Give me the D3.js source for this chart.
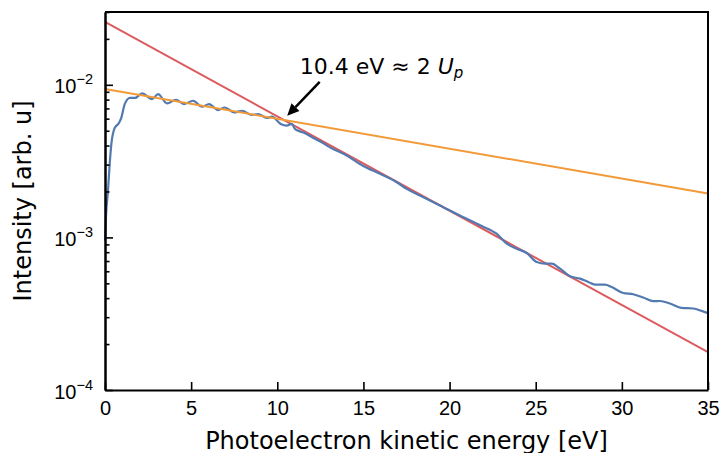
<!DOCTYPE html>
<html>
<head>
<meta charset="utf-8">
<script src="https://cdn.jsdelivr.net/npm/d3@7"></script>
<style>
  body { margin: 0; background: #fff; }
  svg { display: block; font-family: "DejaVu Sans", sans-serif; }
</style>
</head>
<body>
<div class="chart"></div>
<script>
// measured spectrum (blue)
var energy = [0, 0.06, 0.17, 0.27, 0.37, 0.56, 0.8, 0.95, 1.15, 1.45,
  1.75, 2.15, 2.73, 3.08, 3.6, 4.12, 4.59, 5.11, 5.63, 6.04,
  6.56, 6.96, 7.49, 7.95, 8.53, 8.88, 9.4, 9.69, 10.2, 10.55,
  10.84, 11.03, 11.32, 11.61, 12.07, 12.58, 13.06, 14.03, 14.97, 15.96,
  16.93, 17.51, 18.28, 19.44, 20.6, 21.77, 22.73, 23.32, 23.9, 24.48,
  25.06, 25.54, 25.93, 26.41, 26.99, 27.57, 28.05, 28.44, 29.02, 29.41,
  30.08, 30.66, 31.24, 31.82, 32.21, 32.79, 33.47, 34.15, 34.63, 35]
var intensity = [0.95e-3, 1.4e-3, 2.0e-3, 3.0e-3, 4.1e-3, 5.2e-3, 5.6e-3, 6.1e-3, 7.5e-3, 8.2e-3,
  8.2e-3, 8.8e-3, 8.06e-3, 8.69e-3, 7.55e-3, 7.98e-3, 7.48e-3, 7.86e-3, 7.18e-3, 7.48e-3,
  6.83e-3, 7.10e-3, 6.59e-3, 6.76e-3, 6.34e-3, 6.43e-3, 6.06e-3, 6.18e-3, 5.54e-3, 5.40e-3,
  5.54e-3, 5.13e-3, 4.95e-3, 4.81e-3, 4.50e-3, 4.20e-3, 3.89e-3, 3.44e-3, 2.95e-3, 2.61e-3,
  2.30e-3, 2.08e-3, 1.88e-3, 1.62e-3, 1.39e-3, 1.20e-3, 1.057e-3, 0.909e-3, 0.844e-3, 0.790e-3,
  0.690e-3, 0.673e-3, 0.673e-3, 0.624e-3, 0.556e-3, 0.537e-3, 0.510e-3, 0.491e-3, 0.491e-3, 0.473e-3,
  0.432e-3, 0.424e-3, 0.404e-3, 0.382e-3, 0.383e-3, 0.369e-3, 0.345e-3, 0.342e-3, 0.330e-3, 0.319e-3]

// exponential fits, given by their end points
var fitEnergy = [0, 35]
var steepFit = [0.0258, 1.77e-4]
var flatFit = [9.4e-3, 1.94e-3]

var xticks = [0, 5, 10, 15, 20, 25, 30, 35]
var ydecades = [1e-4, 1e-3, 1e-2]
var ydecadeLabels = ['−4', '−3', '−2']

var annotX = 10.4, annotY = 5.9e-3
var annotTextX = 11.3, annotTextY = 0.0118

var width = 724, height = 453
var margin = {left: 105, right: 16, top: 12, bottom: 63}

var svg = d3.select('.chart').append('svg')
  .attr('width', width)
  .attr('height', height)

var x = d3.scaleLinear().domain([0, 35]).range([margin.left, width - margin.right])
var y = d3.scaleLog().domain([1e-4, 3e-2]).range([height - margin.bottom, margin.top])

var line = d3.line().x(d => x(d[0])).y(d => y(d[1]))

svg.append('path')
  .datum(fitEnergy.map((e, i) => [e, steepFit[i]]))
  .attr('d', line)
  .attr('fill', 'none')
  .attr('stroke', '#dc5b5e')
  .attr('stroke-width', 2)

svg.append('path')
  .datum(energy.map((e, i) => [e, intensity[i]]))
  .attr('d', line.curve(d3.curveMonotoneX))
  .attr('fill', 'none')
  .attr('stroke', '#5279b0')
  .attr('stroke-width', 2.2)
line.curve(d3.curveLinear)

svg.append('path')
  .datum(fitEnergy.map((e, i) => [e, flatFit[i]]))
  .attr('d', line)
  .attr('fill', 'none')
  .attr('stroke', '#f29a38')
  .attr('stroke-width', 2)

// axes, ticks point inward
var xaxis = svg.append('g')
  .attr('transform', `translate(0,${height - margin.bottom})`)
  .call(d3.axisBottom(x).tickValues(xticks).tickSize(-8).tickSizeOuter(0).tickPadding(11))
xaxis.selectAll('text').attr('font-size', 20).attr('fill', '#000')

var minor = []
ydecades.forEach(d => { for (var k = 2; k <= 9; k++) { if (d * k <= 3e-2) minor.push(d * k) } })

svg.append('g')
  .attr('transform', `translate(${margin.left},0)`)
  .call(d3.axisLeft(y).tickValues(minor).tickSize(-4.5).tickSizeOuter(0).tickFormat(''))

var yaxis = svg.append('g')
  .attr('transform', `translate(${margin.left},0)`)
  .call(d3.axisLeft(y).tickValues(ydecades).tickSize(-8).tickSizeOuter(0).tickPadding(12).tickFormat(''))

yaxis.selectAll('.tick text').each(function(d, i) {
  var t = d3.select(this)
  t.attr('font-size', 20).attr('fill', '#000').attr('dy', '0.4em').attr('x', -12)
  t.append('tspan').text('10')
  t.append('tspan').text(ydecadeLabels[i]).attr('font-size', 14.5).attr('dy', '-0.62em')
})

svg.selectAll('.tick line').attr('stroke', '#000').attr('stroke-width', 1.6)
svg.selectAll('.domain').attr('stroke', '#000').attr('stroke-width', 2)

// top and right spines
svg.append('path')
  .attr('d', `M${x(0)},${y(3e-2)}H${x(35)}V${y(1e-4)}`)
  .attr('fill', 'none')
  .attr('stroke', '#000')
  .attr('stroke-width', 2)

// labels
svg.append('text')
  .attr('x', (x(0) + x(35)) / 2)
  .attr('y', 449)
  .attr('text-anchor', 'middle')
  .attr('font-size', 24)
  .text('Photoelectron kinetic energy [eV]')

svg.append('text')
  .attr('transform', `translate(31,${(y(1e-4) + y(3e-2)) / 2}) rotate(-90)`)
  .attr('text-anchor', 'middle')
  .attr('font-size', 24)
  .text('Intensity [arb. u]')

// annotation
var tipX = x(annotX) + 3, tipY = y(annotY) - 4
var tailX = x(annotTextX) + 20, tailY = y(annotTextY) + 8
var ang = Math.atan2(tipY - tailY, tipX - tailX)
var hl = 12, hw = 5.5
var baseX = tipX - hl * Math.cos(ang), baseY = tipY - hl * Math.sin(ang)

svg.append('line')
  .attr('x1', tailX).attr('y1', tailY)
  .attr('x2', baseX).attr('y2', baseY)
  .attr('stroke', '#000')
  .attr('stroke-width', 2.5)

svg.append('path')
  .attr('d', `M${tipX},${tipY}L${baseX + hw * Math.sin(ang)},${baseY - hw * Math.cos(ang)}L${baseX - hw * Math.sin(ang)},${baseY + hw * Math.cos(ang)}Z`)
  .attr('fill', '#000')

var annot = svg.append('text')
  .attr('x', x(annotTextX))
  .attr('y', y(annotTextY))
  .attr('font-size', 22)
annot.append('tspan').text('10.4 eV ≈ 2 ')
annot.append('tspan').text('U').attr('font-style', 'italic')
annot.append('tspan').text('p').attr('font-style', 'italic').attr('font-size', 15).attr('dy', '0.3em')
</script>
</body>
</html>
